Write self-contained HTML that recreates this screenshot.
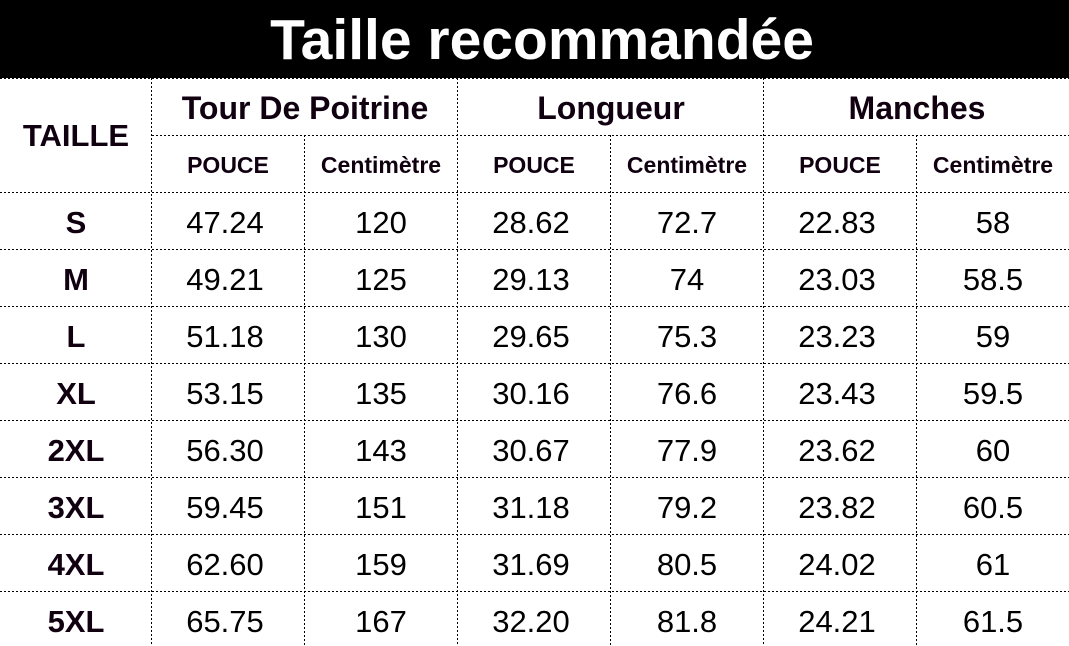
<!DOCTYPE html>
<html><head><meta charset="utf-8"><style>
html,body{margin:0;padding:0;background:#fff;}
svg{display:block;font-family:"Liberation Sans",sans-serif;}
</style></head><body>
<svg width="1069" height="646" xmlns="http://www.w3.org/2000/svg">
<rect x="0" y="0" width="1069" height="78" fill="#000"/>
<text x="542" y="59" fill="#fff" font-size="57" font-weight="bold" text-anchor="middle">Taille recommandée</text>
<g stroke="#000" stroke-width="1" stroke-dasharray="2,2" fill="none">
<line x1="0" y1="78.5" x2="1069" y2="78.5"/>
<line x1="152" y1="135.5" x2="1069" y2="135.5"/>
<line x1="0" y1="192.5" x2="1069" y2="192.5"/>
<line x1="0" y1="249.5" x2="1069" y2="249.5"/>
<line x1="0" y1="306.5" x2="1069" y2="306.5"/>
<line x1="0" y1="363.5" x2="1069" y2="363.5"/>
<line x1="0" y1="420.5" x2="1069" y2="420.5"/>
<line x1="0" y1="477.5" x2="1069" y2="477.5"/>
<line x1="0" y1="534.5" x2="1069" y2="534.5"/>
<line x1="0" y1="591.5" x2="1069" y2="591.5"/>
<line x1="151.5" y1="78" x2="151.5" y2="646"/>
<line x1="457.5" y1="78" x2="457.5" y2="646"/>
<line x1="763.5" y1="78" x2="763.5" y2="646"/>
<line x1="304.5" y1="135" x2="304.5" y2="646"/>
<line x1="610.5" y1="135" x2="610.5" y2="646"/>
<line x1="916.5" y1="135" x2="916.5" y2="646"/>
</g>
<g font-weight="bold" fill="#100010" text-anchor="middle">
<text x="76" y="146" font-size="31">TAILLE</text>
<text x="305" y="119" font-size="32">Tour De Poitrine</text>
<text x="611" y="119" font-size="32">Longueur</text>
<text x="917" y="119" font-size="32">Manches</text>
<g font-size="23">
<text x="228" y="173">POUCE</text><text x="381" y="173">Centimètre</text>
<text x="534" y="173">POUCE</text><text x="687" y="173">Centimètre</text>
<text x="840" y="173">POUCE</text><text x="993" y="173">Centimètre</text>
</g>
<g font-size="31">
<text x="76" y="233">S</text><text x="76" y="290">M</text><text x="76" y="347">L</text><text x="76" y="404">XL</text>
<text x="76" y="461">2XL</text><text x="76" y="518">3XL</text><text x="76" y="575">4XL</text><text x="76" y="632">5XL</text>
</g>
</g>
<g font-size="31" fill="#000" text-anchor="middle">
<g transform="translate(0,233)"><text x="225">47.24</text><text x="381">120</text><text x="531">28.62</text><text x="687">72.7</text><text x="837">22.83</text><text x="993">58</text></g>
<g transform="translate(0,290)"><text x="225">49.21</text><text x="381">125</text><text x="531">29.13</text><text x="687">74</text><text x="837">23.03</text><text x="993">58.5</text></g>
<g transform="translate(0,347)"><text x="225">51.18</text><text x="381">130</text><text x="531">29.65</text><text x="687">75.3</text><text x="837">23.23</text><text x="993">59</text></g>
<g transform="translate(0,404)"><text x="225">53.15</text><text x="381">135</text><text x="531">30.16</text><text x="687">76.6</text><text x="837">23.43</text><text x="993">59.5</text></g>
<g transform="translate(0,461)"><text x="225">56.30</text><text x="381">143</text><text x="531">30.67</text><text x="687">77.9</text><text x="837">23.62</text><text x="993">60</text></g>
<g transform="translate(0,518)"><text x="225">59.45</text><text x="381">151</text><text x="531">31.18</text><text x="687">79.2</text><text x="837">23.82</text><text x="993">60.5</text></g>
<g transform="translate(0,575)"><text x="225">62.60</text><text x="381">159</text><text x="531">31.69</text><text x="687">80.5</text><text x="837">24.02</text><text x="993">61</text></g>
<g transform="translate(0,632)"><text x="225">65.75</text><text x="381">167</text><text x="531">32.20</text><text x="687">81.8</text><text x="837">24.21</text><text x="993">61.5</text></g>
</g>
</svg>
</body></html>
